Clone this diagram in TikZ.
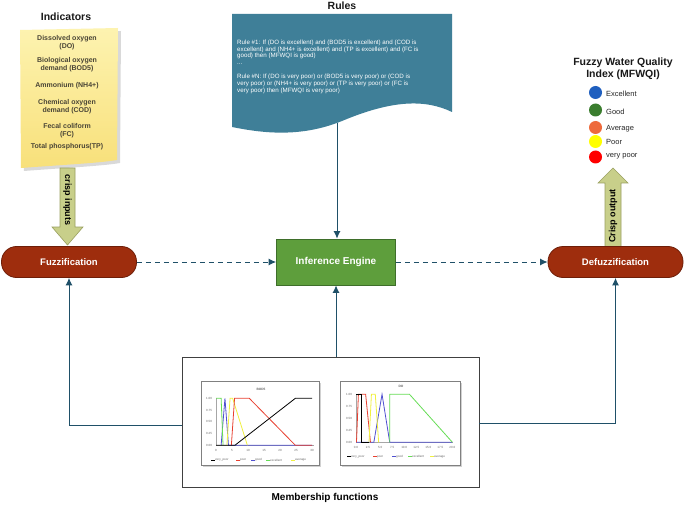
\documentclass[tikz,border=0pt]{standalone}
\usepackage{fontspec}
\setmainfont{Liberation Sans}
\usetikzlibrary{arrows.meta}
\definecolor{conncol}{HTML}{1F5068}
\definecolor{pillfill}{HTML}{9E2D0D}
\definecolor{pillborder}{HTML}{6E1E08}
\definecolor{inffill}{HTML}{5E9E3C}
\definecolor{infborder}{HTML}{3E6E2A}
\definecolor{rulefill}{HTML}{3F7F98}
\definecolor{arrowfill}{HTML}{C8CF8A}
\definecolor{arrowborder}{HTML}{9AA060}
\definecolor{notetop}{HTML}{FDF3B0}
\definecolor{notebot}{HTML}{F8E07A}
\definecolor{notetext}{HTML}{4A4536}
\definecolor{cBlue}{HTML}{1F5FBF}
\definecolor{cGreen}{HTML}{3A7D2E}
\definecolor{cOrange}{HTML}{EE6A3C}
\definecolor{cYellow}{HTML}{FFFF00}
\definecolor{cRed}{HTML}{FF0000}
\definecolor{mfGreen}{HTML}{66DD55}
\definecolor{mfRed}{HTML}{E84030}
\definecolor{mfBlue}{HTML}{5050D0}
\definecolor{mfYellow}{HTML}{F0F040}
\begin{document}
\begin{tikzpicture}[x=1pt,y=-1pt,
  pill/.style={rectangle, rounded corners=15pt, draw=pillborder, line width=0.8pt, fill=pillfill, text=white,
    font=\bfseries\fontsize{9.5}{11}\selectfont, minimum width=135pt, minimum height=31pt, inner sep=0pt},
  infer/.style={rectangle, draw=infborder, line width=0.8pt, fill=inffill, text=white,
    font=\bfseries\fontsize{10}{12}\selectfont, minimum width=119pt, minimum height=46pt, inner sep=0pt},
  conn/.style={draw=conncol, line width=1pt, -{Latex[length=7.5pt,width=7pt]}},
  dashconn/.style={conn, dash pattern=on 5pt off 4pt},
  bigarrow/.style={fill=arrowfill, draw=arrowborder, line width=0.6pt},
  title/.style={font=\bfseries\fontsize{10.5}{12}\selectfont, text=black!90},
  notetxt/.style={font=\bfseries\fontsize{7}{8.2}\selectfont, text=notetext},
  legtxt/.style={font=\fontsize{7.5}{9}\selectfont, text=black!85, anchor=west, inner sep=0pt},
  tick/.style={font=\fontsize{3}{3.5}\selectfont, text=black!60, inner sep=0pt},
  curve/.style={line width=0.8pt},
]
\useasboundingbox (0,0) rectangle (685,505);
\fill[white] (0,0) rectangle (685,505);

% ---------- Indicators note ----------
\node[title] (indt) at (66,17) {Indicators};
\fill[black!15] (23,33) -- (121,31) -- (120,163) .. controls (103,166) and (62,168) .. (24,171) -- cycle;
\shade[top color=notetop, bottom color=notebot] (20,30) -- (118,28) -- (117,160) .. controls (100,163) and (60,165) .. (21,168) -- cycle;
\node[notetxt, align=center] (n1) at (67,43) {Dissolved oxygen\\(DO)};
\node[notetxt, align=center] (n2) at (67,65) {Biological oxygen\\demand (BOD5)};
\node[notetxt] (n3) at (67,86) {Ammonium (NH4+)};
\node[notetxt, align=center] (n4) at (67,107) {Chemical oxygen\\demand (COD)};
\node[notetxt, align=center] (n5) at (67,131) {Fecal coliform\\(FC)};
\node[notetxt] (n6) at (67,146.5) {Total phosphorus(TP)};

% ---------- crisp inputs arrow ----------
\draw[bigarrow] (60,168) -- (75,168) -- (75,227) -- (83,227) -- (67.5,245) -- (52,227) -- (60,227) -- cycle;
\node[font=\bfseries\fontsize{9}{10}\selectfont, rotate=-90] (ci) at (67.5,200) {crisp inputs};

% ---------- Rules document ----------
\node[title] (rt) at (342,5.5) {Rules};
\fill[rulefill] (232,14) -- (452,14) -- (452,112) .. controls (425,99) and (392,100) .. (342,121) .. controls (300,138) and (262,133) .. (232,127) -- cycle;
\node[anchor=north west, inner sep=0pt, text=white, align=left, font=\fontsize{6.2}{6.9}\selectfont] (rtext) at (237,39.5)
 {Rule \#1: If (DO is excellent) and (BOD5 is excellent) and (COD is\\
  excellent) and (NH4+ is excellent) and (TP is excellent) and (FC is\\
  good) then (MFWQI is good)\\
  ...\\[6.9pt]
  Rule \#N: If (DO is very poor) or (BOD5 is very poor) or (COD is\\
  very poor) or (NH4+ is very poor) or (TP is very poor) or (FC is\\
  very poor) then (MFWQI is very poor)};
\coordinate (rulesbot) at (337,123);

% ---------- MFWQI legend ----------
\node[title, align=center] (mt) at (623,68.5) {Fuzzy Water Quality\\Index (MFWQI)};
\fill[cBlue] (595.5,92.5) circle (6.5);
\fill[cGreen] (595.5,110) circle (6.5);
\fill[cOrange] (595.5,127.5) circle (6.5);
\fill[cYellow] (595.5,141.5) circle (6.5);
\fill[cRed] (595.5,157) circle (6.5);
\node[legtxt] (l1) at (606,93.5) {Excellent};
\node[legtxt] (l2) at (606,111.5) {Good};
\node[legtxt] (l3) at (606,128.5) {Average};
\node[legtxt] (l4) at (606,142) {Poor};
\node[legtxt] (l5) at (606,156.5) {very poor};

% ---------- crisp output arrow ----------
\draw[bigarrow] (605,248) -- (605,183) -- (598,183) -- (613,168) -- (628,183) -- (621,183) -- (621,248) -- cycle;
\node[font=\bfseries\fontsize{9}{10}\selectfont, rotate=90] (co) at (613,216) {Crisp output};

% ---------- main nodes ----------
\node[pill] (fuzz) at (69,262) {Fuzzification};
\node[infer] (inf) at (336,262) {Inference Engine};
\node[pill] (defuzz) at (615.5,262) {Defuzzification};

% ---------- Membership box ----------
\node[draw=black!75, line width=0.7pt, fill=white, minimum width=297pt, minimum height=130pt, inner sep=0pt] (mf) at (330.5,422) {};
\node[font=\bfseries\fontsize{10}{12}\selectfont] (mft) at (325,497.5) {Membership functions};

% BOD5 chart
\fill[black!18] (203,383) rectangle (321,467);
\draw[black!50, fill=white, line width=0.5pt] (201,381) rectangle (319,465);
\node[tick, font=\bfseries\fontsize{3.2}{4}\selectfont] at (261,389) {BOD5};
\draw[black!35, line width=0.3pt] (216,398) -- (216,445.3) -- (314,445.3);
\foreach \v/\l in {0/0.00,0.25/0.25,0.5/0.50,0.75/0.75,1/1.00}
  \node[tick] at (209,445.3-47*\v) {\l};
\foreach \v in {0,5,10,15,20,25,30}
  \node[tick] at (216+3.2*\v,450.7) {\v};
\begin{scope}[shift={(216,445.3)}, x=3.2pt, y=47pt]
  \draw[mfBlue, curve] (1.6,0) -- (2.8,1) -- (3.9,0) -- (30,0);
  \draw[mfGreen, curve] (0,1) -- (1.6,1) -- (2.2,0);
  \draw[mfYellow, curve] (3.4,0) -- (4.4,1) -- (5.2,1) -- (9.8,0);
  \draw[mfRed, curve] (4.8,0) -- (5.8,1) -- (10.4,1) -- (24.8,0) -- (30,0);
  \draw[black, curve] (0,0) -- (5.9,0) -- (24.8,1) -- (30,1);
\end{scope}
\foreach \xx/\cc/\tt in {211/black/very\_poor,236/mfRed/poor,251/mfBlue/good,266/mfGreen/excellent,291/mfYellow/average}{
  \draw[\cc, line width=0.6pt] (\xx,460) -- (\xx+3.5,460);
  \node[tick, anchor=west] at (\xx+4,460) {\tt};
}

% DO chart
\fill[black!18] (342,383) rectangle (462,467);
\draw[black!50, fill=white, line width=0.5pt] (340,381) rectangle (460,465);
\node[tick, font=\bfseries\fontsize{3.2}{4}\selectfont] at (401,386.5) {DO};
\draw[black!35, line width=0.3pt] (356,394.3) -- (356,442.3) -- (452.5,442.3);
\foreach \v/\l in {0/0.00,0.25/0.25,0.5/0.50,0.75/0.75,1/1.00}
  \node[tick] at (349,442.3-48*\v) {\l};
\foreach \v/\l in {0/0.0,2.5/2.5,5/5.0,7.5/7.5,10/10.0,12.5/12.5,15/15.0,17.5/17.5,20/20.0}
  \node[tick] at (356+4.82*\v,447.7) {\l};
\begin{scope}[shift={(356,442.3)}, x=4.82pt, y=48pt]
  \draw[mfBlue, curve] (0,0) -- (3.7,0) -- (5.4,1) -- (7,0) -- (20,0);
  \draw[mfRed, curve] (0.1,0) -- (0.5,1) -- (2,1) -- (3,0);
  \draw[mfYellow, curve] (2.7,0) -- (3.2,1) -- (4,1) -- (4.7,0);
  \draw[mfGreen, curve] (7,0) -- (7,1) -- (11.1,1) -- (20,0);
  \draw[black, curve] (0,1) -- (1.1,1) -- (1.1,0) -- (2.6,0);
\end{scope}
\foreach \xx/\cc/\tt in {347/black/very\_poor,373/mfRed/poor,392/mfBlue/good,408/mfGreen/excellent,430/mfYellow/average}{
  \draw[\cc, line width=0.6pt] (\xx,456.7) -- (\xx+3.5,456.7);
  \node[tick, anchor=west] at (\xx+4,456.7) {\tt};
}

% ---------- connectors ----------
\draw[dashconn] (fuzz.east) -- (inf.west);
\draw[dashconn] (inf.east) -- (defuzz.west);
\draw[conn] (rulesbot) -- (rulesbot |- inf.north);
\draw[conn] (inf.south |- mf.north) -- (inf.south);
\draw[conn] ([yshift=-3.5pt]mf.west) -| (fuzz.south);
\draw[conn] ([yshift=-1pt]mf.east) -| (defuzz.south);
\end{tikzpicture}
\end{document}
